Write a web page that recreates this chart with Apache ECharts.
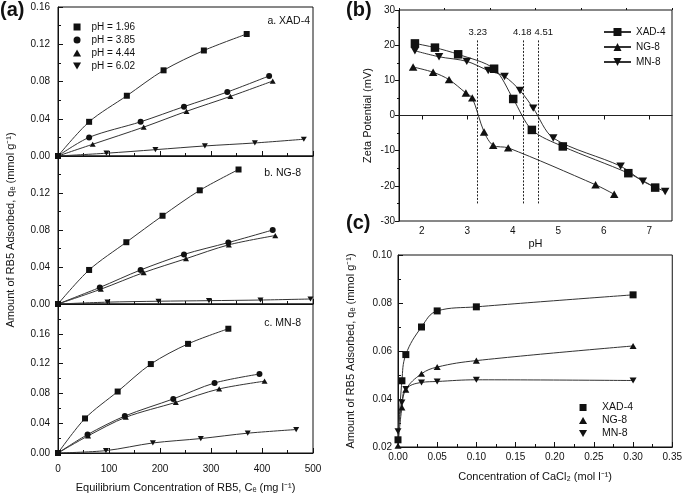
<!DOCTYPE html>
<html>
<head>
<meta charset="utf-8">
<script src="https://cdn.jsdelivr.net/npm/echarts@6/dist/echarts.min.js"></script>
<style>html,body{margin:0;padding:0;background:#fff;}#c{width:685px;height:495px;}</style>
</head>
<body>
<div id="c"></div>
<script>
// ---------- Panel (a): isotherms ----------
const phLabels = ['pH = 1.96', 'pH = 3.85', 'pH = 4.44', 'pH = 6.02'];
// a. XAD-4
const xadCe = [
  [0, 61, 135, 207, 286, 370],
  [0, 61, 162, 247, 332, 414],
  [0, 68, 168, 252, 338, 421],
  [0, 95, 191, 288, 386, 482]
];
const xadQe = [
  [0, 0.0367, 0.0647, 0.092, 0.1133, 0.131],
  [0, 0.020, 0.0367, 0.053, 0.0687, 0.086],
  [0, 0.0126, 0.031, 0.048, 0.064, 0.0805],
  [0, 0.003, 0.0068, 0.0108, 0.014, 0.018]
];
// b. NG-8
const ngCe = [
  [0, 61, 134, 205, 278, 354],
  [0, 82, 162, 247, 334, 421],
  [0, 84, 168, 251, 335, 426],
  [0, 97, 197, 296, 397, 495]
];
const ngQe = [
  [0, 0.0368, 0.0668, 0.0954, 0.1229, 0.1454],
  [0, 0.0179, 0.0368, 0.0536, 0.0664, 0.080],
  [0, 0.016, 0.034, 0.049, 0.064, 0.074],
  [0, 0.002, 0.003, 0.0036, 0.0043, 0.0054]
];
// c. MN-8
const mnCe = [
  [0, 53, 117, 182, 255, 334],
  [0, 58, 131, 226, 307, 395],
  [0, 59, 133, 231, 316, 405],
  [0, 94, 186, 280, 372, 467]
];
const mnQe = [
  [0, 0.0464, 0.0825, 0.1194, 0.1465, 0.1668],
  [0, 0.0248, 0.0496, 0.0726, 0.094, 0.106],
  [0, 0.023, 0.048, 0.068, 0.086, 0.0964],
  [0, 0.0032, 0.0135, 0.0194, 0.0266, 0.0315]
];
const panelATitles = ['a. XAD-4', 'b. NG-8', 'c. MN-8'];

// ---------- Panel (b): zeta potential ----------
const resinNames = ['XAD-4', 'NG-8', 'MN-8'];
const zetaPH = [
  [1.85, 2.29, 2.8, 3.59, 4.01, 4.42, 5.1, 6.54, 7.13],
  [1.81, 2.25, 2.6, 2.97, 3.11, 3.37, 3.57, 3.9, 5.82, 6.23],
  [1.85, 2.38, 2.99, 3.46, 3.82, 4.16, 4.45, 4.89, 6.37, 6.86, 7.35]
];
const zetaMV = [
  [20.5, 19.3, 17.4, 13.3, 4.7, -4.1, -8.8, -16.4, -20.5],
  [13.8, 12.3, 10.2, 6.4, 5.0, -4.7, -8.5, -9.2, -19.7, -22.4],
  [18.4, 16.7, 15.4, 12.8, 11.1, 7.1, 2.1, -6.4, -14.4, -18.7, -21.6]
];
const pzcPosition = [3.23, 4.22, 4.56];
const pzcLabels = ['3.23', '4.18', '4.51'];
const pzcRange = [-25, 21.5];
const zetaTicks = [2, 3, 4, 5, 6, 7];
const zetaMinorTicks = [1.5, 2.5, 3.5, 4.5, 5.5, 6.5, 7.5];

// ---------- Panel (c): CaCl2 ----------
const cacl2Conc = [0, 0.005, 0.01, 0.03, 0.05, 0.1, 0.3];
const cacl2Qe = [
  [0.023, 0.0476, 0.0585, 0.070, 0.0767, 0.0784, 0.0834],
  [0.0205, 0.0365, 0.0439, 0.0505, 0.0533, 0.056, 0.0621],
  [0.0265, 0.0385, 0.0442, 0.0469, 0.0473, 0.048, 0.0477]
];

// ---------- Build chart ----------
const FONT = 'Liberation Sans, Arial, Helvetica, sans-serif';
const sq = 'path://M0,0 L10,0 L10,10 L0,10 Z';
const upTri = 'path://M5,0 L10,8.66 L0,8.66 Z';
const downTri = 'path://M0,0 L10,0 L5,8.66 Z';
const phSymbols = [sq, 'circle', upTri, downTri];
const resinSymbols = [sq, upTri, downTri];
const INK = '#111';
const LINE = '#333';

function mkLine(name, xs, ys, xi, yi, symbol, size, extra) {
  return Object.assign({
    type: 'line', name: name, xAxisIndex: xi, yAxisIndex: yi,
    data: xs.map((x, i) => [x, ys[i]]),
    symbol: symbol, symbolSize: size, symbolKeepAspect: true, showAllSymbol: true,
    smooth: 0.3,
    lineStyle: { color: LINE, width: 1 },
    itemStyle: { color: INK },
    emphasis: { disabled: true }, silent: true
  }, extra || {});
}

const fmt2 = v => v.toFixed(2);

const series = [];
const isoCe = [xadCe, ngCe, mnCe];
const isoQe = [xadQe, ngQe, mnQe];
for (let p = 0; p < 3; p++) {
  for (let k = 0; k < 4; k++) {
    series.push(mkLine(phLabels[k], isoCe[p][k], isoQe[p][k], p, p, phSymbols[k], 6));
  }
}
for (let k = 0; k < 3; k++) {
  const extra = {};
  if (k === 0) {
    extra.markLine = {
      silent: true, symbol: 'none', animation: false,
      data: [{ yAxis: 0, lineStyle: { type: 'solid', color: '#222', width: 1 }, label: { show: false } }].concat(
        pzcPosition.map((x, i) => [
          { coord: [x, pzcRange[0]], name: pzcLabels[i],
            label: i === 2 ? { padding: [0, 0, 0, 11] } : (i === 1 ? { padding: [0, 1, 0, 0] } : {}) },
          { coord: [x, pzcRange[1]] }
        ])
      ),
      lineStyle: { type: [2, 1.5], color: '#222', width: 1 },
      label: { show: true, position: 'end', formatter: '{b}', fontSize: 9.5, color: INK, fontFamily: FONT, distance: 3 }
    };
  }
  series.push(mkLine(resinNames[k], zetaPH[k], zetaMV[k], 3, 3, resinSymbols[k], 8.5, extra));
}
for (let k = 0; k < 3; k++) {
  series.push(mkLine(resinNames[k], cacl2Conc, cacl2Qe[k], 5, 4, resinSymbols[k], 7, { smooth: 0.4 }));
}

function isoX(idx, showLabel) {
  return {
    gridIndex: idx, type: 'value', min: 0, max: 500, interval: 100,
    axisLine: { lineStyle: { color: INK } },
    axisTick: { inside: true, length: 5, lineStyle: { color: INK } },
    minorTick: { show: true, splitNumber: 2, length: 3, lineStyle: { color: INK } },
    splitLine: { show: false },
    axisLabel: { show: showLabel, fontSize: 10, color: INK, margin: 11, fontFamily: FONT },
    name: showLabel ? 'Equilibrium Concentration of RB5, Cₑ (mg l⁻¹)' : '',
    nameLocation: 'middle', nameGap: 29,
    nameTextStyle: { fontSize: 11, color: INK, fontFamily: FONT }
  };
}
function isoY(idx, max, showMax, name) {
  return {
    gridIndex: idx, type: 'value', min: 0, max: max, interval: 0.04,
    axisLine: { lineStyle: { color: INK } },
    axisTick: { inside: true, length: 5, lineStyle: { color: INK } },
    minorTick: { show: true, splitNumber: 2, length: 3, lineStyle: { color: INK } },
    splitLine: { show: false },
    axisLabel: { fontSize: 10, color: INK, margin: 8, formatter: fmt2, showMaxLabel: showMax, fontFamily: FONT },
    name: name || '', nameLocation: 'middle', nameGap: 42,
    nameTextStyle: { fontSize: 11, color: INK, fontFamily: FONT }
  };
}

const frame = { show: true, borderColor: INK, borderWidth: 1, backgroundColor: 'transparent' };

const option = {
  animation: false,
  backgroundColor: '#fff',
  textStyle: { fontFamily: FONT },
  grid: [
    Object.assign({ left: 58, top: 7, width: 255, height: 149 }, frame),
    Object.assign({ left: 58, top: 156, width: 255, height: 148 }, frame),
    Object.assign({ left: 58, top: 304, width: 255, height: 149 }, frame),
    Object.assign({ left: 399, top: 10, width: 273, height: 211 }, frame),
    Object.assign({ left: 398, top: 255, width: 276, height: 192 }, frame)
  ],
  xAxis: [
    isoX(0, false), isoX(1, false), isoX(2, true),
    {
      gridIndex: 3, type: 'value', min: 1.5, max: 7.5,
      axisLine: { lineStyle: { color: INK } },
      axisTick: { inside: false, length: 4, customValues: zetaTicks, lineStyle: { color: INK } },
      splitLine: { show: false },
      axisLabel: { fontSize: 10, color: INK, margin: 5, customValues: zetaTicks, fontFamily: FONT },
      name: 'pH', nameLocation: 'middle', nameGap: 17,
      nameTextStyle: { fontSize: 11, color: INK, fontFamily: FONT }
    },
    {
      gridIndex: 4, type: 'value', min: 0, max: 0.35, interval: 0.05,
      axisLine: { lineStyle: { color: INK } },
      axisTick: { inside: true, length: 5, lineStyle: { color: INK } },
      minorTick: { show: true, splitNumber: 2, length: 3, lineStyle: { color: INK } },
      splitLine: { show: false },
      axisLabel: { fontSize: 10, color: INK, margin: 5, formatter: fmt2, fontFamily: FONT },
      name: 'Concentration of CaCl₂ (mol l⁻¹)', nameLocation: 'middle', nameGap: 24,
      nameTextStyle: { fontSize: 11, color: INK, fontFamily: FONT }
    },
    {
      gridIndex: 4, type: 'value', min: 0, max: 0.35, show: false
    },
    {
      gridIndex: 3, type: 'value', min: 1.5, max: 7.5,
      axisLine: { show: false },
      axisTick: { inside: false, length: 2, customValues: zetaMinorTicks, lineStyle: { color: INK } },
      axisLabel: { show: false }, splitLine: { show: false }
    }
  ],
  yAxis: [
    isoY(0, 0.16, true),
    isoY(1, 0.16, false, 'Amount of RB5 Adsorbed, qₑ (mmol g⁻¹)'),
    isoY(2, 0.20, false),
    {
      gridIndex: 3, type: 'value', min: -30, max: 30, interval: 10,
      axisLine: { lineStyle: { color: INK } },
      axisTick: { inside: false, length: 4, lineStyle: { color: INK } },
      minorTick: { show: true, splitNumber: 2, length: 2, lineStyle: { color: INK } },
      splitLine: { show: false },
      axisLabel: { fontSize: 10, color: INK, margin: 4, fontFamily: FONT },
      name: 'Zeta Potential (mV)', nameLocation: 'middle', nameGap: 26,
      nameTextStyle: { fontSize: 11, color: INK, fontFamily: FONT }
    },
    {
      gridIndex: 4, type: 'value', min: 0.02, max: 0.10, interval: 0.02,
      axisLine: { lineStyle: { color: INK } },
      axisTick: { inside: true, length: 5, lineStyle: { color: INK } },
      minorTick: { show: true, splitNumber: 2, length: 3, lineStyle: { color: INK } },
      splitLine: { show: false },
      axisLabel: { fontSize: 10, color: INK, margin: 6, formatter: fmt2, fontFamily: FONT },
      name: 'Amount of RB5 Adsorbed, qₑ (mmol g⁻¹)', nameLocation: 'middle', nameGap: 42,
      nameTextStyle: { fontSize: 11, color: INK, fontFamily: FONT }
    }
  ],
  legend: [
    {
      selectedMode: false, orient: 'vertical', left: 68, top: 17,
      itemWidth: 19, itemHeight: 7, itemGap: 3, symbolKeepAspect: true,
      textStyle: { fontSize: 10, color: INK, fontFamily: FONT },
      data: phLabels.map((n, i) => ({ name: n, icon: phSymbols[i] }))
    },
    {
      selectedMode: false, orient: 'vertical', left: 598, top: 22,
      itemWidth: 27, itemHeight: 10, itemGap: 5,
      textStyle: { fontSize: 10, color: INK, fontFamily: FONT },
      data: resinNames.slice()
    },
    {
      selectedMode: false, orient: 'vertical', left: 574, top: 397,
      itemWidth: 28, itemHeight: 7, itemGap: 2, symbolKeepAspect: true,
      textStyle: { fontSize: 10.5, color: INK, fontFamily: FONT },
      data: resinNames.map((n, i) => ({ name: n, icon: resinSymbols[i], itemStyle: { color: INK } }))
    }
  ],
  graphic: [
    { type: 'text', left: 0, top: 0, style: { text: '(a)', font: 'bold 20px ' + FONT, fill: INK } },
    { type: 'text', left: 346, top: 0, style: { text: '(b)', font: 'bold 20px ' + FONT, fill: INK } },
    { type: 'text', left: 346, top: 213, style: { text: '(c)', font: 'bold 20px ' + FONT, fill: INK } },
    { type: 'text', right: 375, top: 16, style: { text: panelATitles[0], font: '10.5px ' + FONT, fill: INK } },
    { type: 'text', right: 384, top: 168, style: { text: panelATitles[1], font: '10.5px ' + FONT, fill: INK } },
    { type: 'text', right: 384, top: 318, style: { text: panelATitles[2], font: '10.5px ' + FONT, fill: INK } }
  ],
  series: series
};

const chart = echarts.init(document.getElementById('c'), null, { renderer: 'canvas' });
chart.setOption(option);
</script>
</body>
</html>
